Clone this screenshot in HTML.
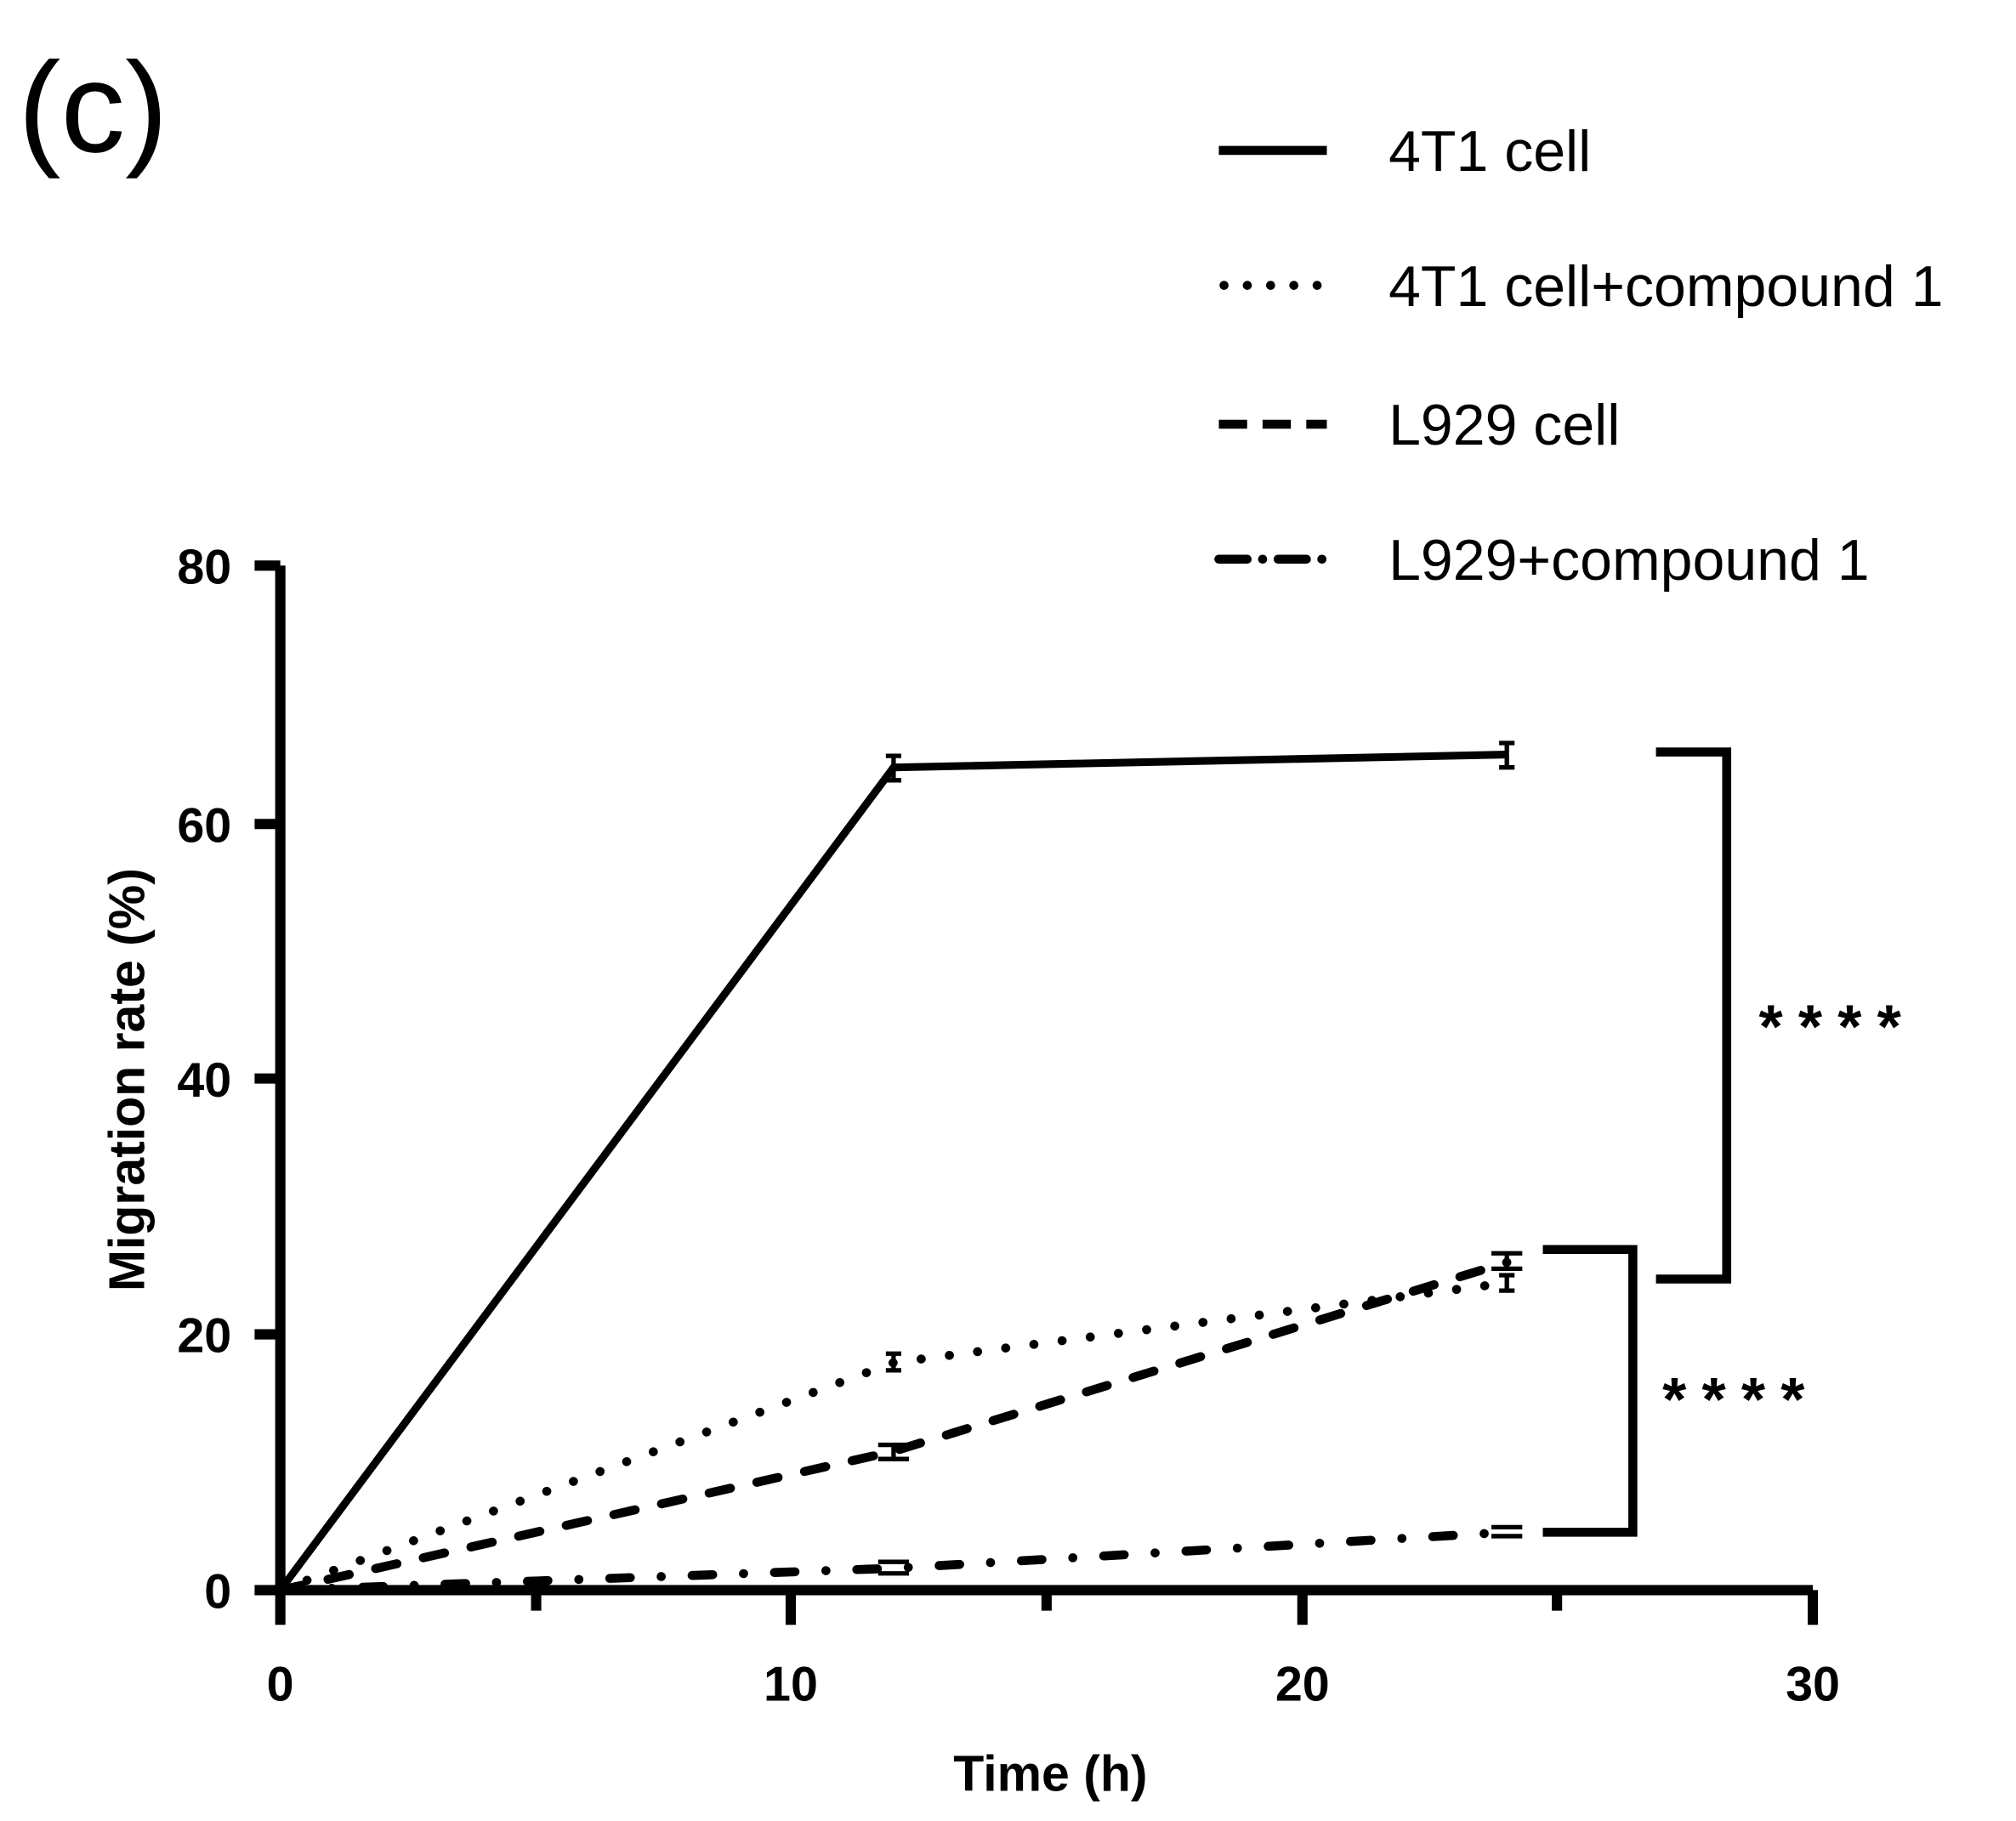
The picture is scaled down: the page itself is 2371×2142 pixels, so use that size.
<!DOCTYPE html>
<html><head><meta charset="utf-8"><style>html,body{margin:0;padding:0;background:#fff}svg{display:block}</style></head>
<body>
<svg width="2371" height="2142" viewBox="0 0 1568 1416.6" xmlns="http://www.w3.org/2000/svg" font-family="Liberation Sans, sans-serif">
<text x="14" y="118" font-size="100">(c)</text>
<g stroke="#000" stroke-width="7" fill="none">
<line x1="948" y1="117" x2="1032" y2="117"/>
<line x1="952" y1="222" x2="1032" y2="222" stroke-dasharray="0.1 18" stroke-linecap="round"/>
<line x1="948" y1="330" x2="1032" y2="330" stroke-dasharray="22 12"/>
<line x1="948" y1="435" x2="1032" y2="435" stroke-dasharray="22 12 0.1 12" stroke-linecap="round"/>
</g>
<g font-size="45">
<text x="1080" y="133">4T1 cell</text>
<text x="1080" y="238">4T1 cell+compound 1</text>
<text x="1080" y="346">L929 cell</text>
<text x="1080" y="451">L929+compound 1</text>
</g>
<g stroke="#000" stroke-width="8" fill="none">
<polyline points="218,440 218,1237 1410,1237"/>
<line x1="198" y1="440" x2="218" y2="440"/>
<line x1="198" y1="641" x2="218" y2="641"/>
<line x1="198" y1="839" x2="218" y2="839"/>
<line x1="198" y1="1038" x2="218" y2="1038"/>
<line x1="198" y1="1237" x2="218" y2="1237"/>
<line x1="218" y1="1237" x2="218" y2="1264"/>
<line x1="615" y1="1237" x2="615" y2="1264"/>
<line x1="1013" y1="1237" x2="1013" y2="1264"/>
<line x1="1410" y1="1237" x2="1410" y2="1264"/>
<line x1="417" y1="1237" x2="417" y2="1253"/>
<line x1="814" y1="1237" x2="814" y2="1253"/>
<line x1="1211" y1="1237" x2="1211" y2="1253"/>
</g>
<g font-size="38" font-weight="bold" text-anchor="end">
<text x="180" y="454">80</text><text x="180" y="655">60</text><text x="180" y="853">40</text><text x="180" y="1052">20</text><text x="180" y="1251">0</text>
</g>
<g font-size="38" font-weight="bold" text-anchor="middle">
<text x="218" y="1323">0</text><text x="615" y="1323">10</text><text x="1013" y="1323">20</text><text x="1410" y="1323">30</text>
<text x="817" y="1393" font-size="39">Time (h)</text>
<text transform="translate(112,840) rotate(-90)" font-size="39">Migration rate (%)</text>
</g>
<g stroke="#000" fill="none" stroke-linecap="round">
<polyline points="218,1237 695,597 1172,587" stroke-width="6" stroke-linecap="butt"/>
<polyline points="218,1237 695,1060 1172,998" stroke-dasharray="0.1 22" stroke-width="7"/>
<polyline points="218,1237 695,1129 1172,982" stroke-dasharray="17 21" stroke-width="7"/>
<polyline points="218,1237 695,1220 1172,1192" stroke-dasharray="16 24 0.1 24" stroke-width="7"/>
</g>
<g stroke="#000" stroke-width="3.5" fill="none">
<path d="M689,588h12M689,607h12M695,588v19"/>
<path d="M1166,578h12M1166,597h12M1172,578v19"/>
<path d="M689,1053h12M689,1066h12M695,1053v13"/>
<path d="M1166,992h12M1166,1004h12M1172,992v12"/>
<path d="M683,1124h24M683,1135h24M695,1124v11"/>
<path d="M1160,975h24M1160,987h24M1172,975v12"/>
<path d="M683,1215h24M683,1224h24"/>
<path d="M1160,1188h24M1160,1195h24"/>
</g>
<g stroke="#000" stroke-width="7" fill="none">
<polyline points="1288,585 1343,585 1343,995 1288,995"/>
<polyline points="1200,972 1270,972 1270,1192 1200,1192"/>
</g>
<g font-size="48" font-weight="bold" letter-spacing="12">
<text x="1368" y="815">****</text>
<text x="1293" y="1105">****</text>
</g>
</svg>
</body></html>
